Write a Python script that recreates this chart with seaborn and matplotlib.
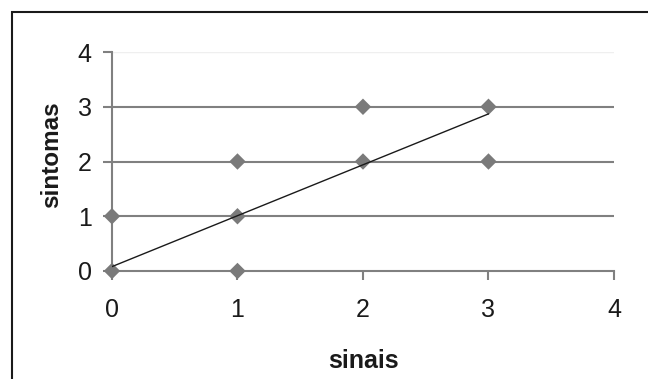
import matplotlib
matplotlib.use("Agg")
import matplotlib.pyplot as plt
import seaborn as sns
import pandas as pd
import numpy as np
from matplotlib.patches import Rectangle

# observations: signs (x) vs symptoms (y)
sinais = [0, 0, 1, 1, 1, 2, 2, 3, 3]
sintomas = [0, 1, 0, 1, 2, 2, 3, 2, 3]

# linear trend line parameters
trend_intercept = 0.08
trend_slope = 0.93
trend_x = [0, 3]

x_ticks = [0, 1, 2, 3, 4]
y_ticks = [0, 1, 2, 3, 4]

sns.set_theme(style="white")
plt.rcParams["font.family"] = ["Liberation Sans", "DejaVu Sans"]

fig = plt.figure(figsize=(6.48, 3.79), dpi=100)
ax = fig.add_axes([0.1728, 0.285, 0.7747, 0.5777])

grid_col = "#808080"
text_col = "#1a1a1a"
for yv in y_ticks[1:-1]:
    ax.axhline(yv, color=grid_col, lw=1.5, zorder=1)
ax.axhline(y_ticks[-1], color="#efefef", lw=1.0, zorder=1)

df = pd.DataFrame({"sinais": sinais, "sintomas": sintomas})
sns.scatterplot(data=df, x="sinais", y="sintomas", marker="D", s=70,
                color="#7a7a7a", edgecolor="none", ax=ax, zorder=3, clip_on=False)

tx = np.array(trend_x, dtype=float)
ax.plot(tx, trend_intercept + trend_slope * tx, color=text_col, lw=1.0, zorder=4)

ax.set_xlim(0, 4)
ax.set_ylim(0, 4)
ax.set_xticks(x_ticks)
ax.set_yticks(y_ticks)
ax.tick_params(axis="both", direction="out", length=6.5, width=1.5, color=grid_col,
               labelsize=18, labelcolor=text_col, left=True, bottom=True)
ax.tick_params(axis="y", pad=8)
ax.tick_params(axis="x", pad=13)

for side in ["top", "right"]:
    ax.spines[side].set_visible(False)
for side in ["left", "bottom"]:
    ax.spines[side].set_color(grid_col)
    ax.spines[side].set_linewidth(1.5)

ax.set_xlabel("sinais", fontsize=18, fontweight="bold", color=text_col)
ax.set_ylabel("sintomas", fontsize=17.5, fontweight="bold", color=text_col)
ax.xaxis.set_label_coords(0.5, -0.355)
ax.yaxis.set_label_coords(-0.097, 0.53)

# outer chart frame
fig.patches.append(Rectangle((12 / 648, -0.2), 1.2, 1.2 - 12 / 379,
                             transform=fig.transFigure, fill=False,
                             edgecolor=text_col, lw=1.5))

fig.savefig("out.png", dpi=100)
